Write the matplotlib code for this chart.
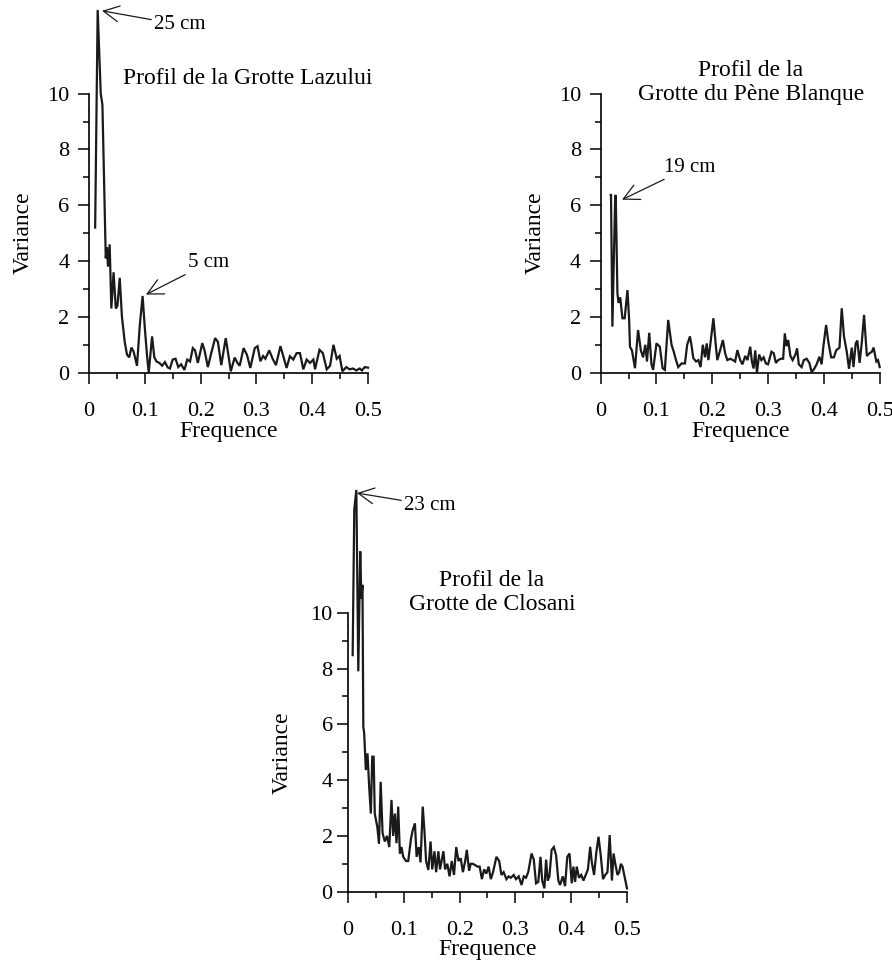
import numpy as np
import matplotlib
matplotlib.use("Agg")
import matplotlib.pyplot as plt
from matplotlib.ticker import MultipleLocator
from matplotlib.transforms import blended_transform_factory

plt.rcParams['font.family'] = ['Liberation Serif', 'DejaVu Serif']

# spectre de variance - Grotte Lazului
freq_laz = [0.011, 0.0155, 0.021, 0.024, 0.030, 0.032, 0.034, 0.037, 0.040, 0.044,
            0.048, 0.051, 0.055, 0.059, 0.064, 0.068, 0.072, 0.076, 0.080, 0.083,
            0.086, 0.091, 0.096, 0.100, 0.104, 0.107, 0.113, 0.117, 0.121, 0.126,
            0.131, 0.136, 0.141, 0.145, 0.150, 0.155, 0.160, 0.165, 0.171, 0.176,
            0.181, 0.186, 0.190, 0.195, 0.203, 0.207, 0.213, 0.219, 0.226, 0.231,
            0.237, 0.245, 0.250, 0.254, 0.261, 0.266, 0.270, 0.277, 0.283, 0.289,
            0.297, 0.302, 0.307, 0.312, 0.316, 0.323, 0.329, 0.335, 0.343, 0.348,
            0.354, 0.360, 0.366, 0.372, 0.378, 0.384, 0.390, 0.396, 0.402, 0.405,
            0.413, 0.419, 0.426, 0.432, 0.438, 0.444, 0.449, 0.454, 0.461, 0.467,
            0.473, 0.479, 0.485, 0.489, 0.494, 0.500]
var_laz = [5.2, 13.0, 10.0, 9.6, 4.1, 4.5, 3.8, 4.6, 2.3, 3.6,
           2.3, 2.4, 3.4, 2.0, 1.1, 0.65, 0.55, 0.9, 0.75, 0.5,
           0.25, 1.7, 2.75, 1.6, 0.6, 0.0, 1.3, 0.55, 0.4, 0.35,
           0.25, 0.38, 0.19, 0.15, 0.47, 0.5, 0.2, 0.3, 0.1, 0.47,
           0.4, 0.88, 0.8, 0.35, 1.06, 0.8, 0.2, 0.7, 1.24, 1.1,
           0.27, 1.24, 0.6, 0.05, 0.54, 0.35, 0.25, 0.88, 0.64, 0.17,
           0.88, 0.95, 0.41, 0.6, 0.5, 0.8, 0.5, 0.27, 0.95, 0.6,
           0.17, 0.59, 0.47, 0.7, 0.7, 0.12, 0.47, 0.35, 0.47, 0.12,
           0.82, 0.7, 0.12, 0.25, 1.0, 0.5, 0.6, 0.05, 0.2, 0.12,
           0.15, 0.08, 0.15, 0.08, 0.2, 0.18]

# Grotte du Pene Blanque
freq_pen = [0.018, 0.0185, 0.021, 0.026, 0.027, 0.030, 0.032, 0.035, 0.039, 0.043,
            0.048, 0.051, 0.0525, 0.056, 0.0615, 0.067, 0.072, 0.076, 0.080, 0.083,
            0.087, 0.091, 0.094, 0.100, 0.106, 0.111, 0.115, 0.121, 0.127, 0.131,
            0.135, 0.139, 0.145, 0.151, 0.155, 0.160, 0.163, 0.166, 0.171, 0.175,
            0.179, 0.183, 0.187, 0.190, 0.193, 0.197, 0.202, 0.206, 0.209, 0.214,
            0.219, 0.223, 0.227, 0.232, 0.237, 0.241, 0.245, 0.250, 0.254, 0.259,
            0.263, 0.268, 0.271, 0.274, 0.277, 0.280, 0.284, 0.288, 0.292, 0.296,
            0.300, 0.306, 0.310, 0.314, 0.318, 0.323, 0.327, 0.330, 0.333, 0.336,
            0.340, 0.344, 0.349, 0.352, 0.355, 0.360, 0.364, 0.369, 0.374, 0.378,
            0.383, 0.387, 0.392, 0.396, 0.399, 0.404, 0.408, 0.413, 0.418, 0.422,
            0.428, 0.432, 0.436, 0.441, 0.445, 0.450, 0.453, 0.457, 0.460, 0.464,
            0.468, 0.472, 0.477, 0.482, 0.486, 0.489, 0.494, 0.497, 0.500]
var_pen = [6.37, 6.37, 1.65, 6.3, 6.37, 2.85, 2.5, 2.7, 1.95, 1.95,
           2.96, 1.9, 0.93, 0.8, 0.16, 1.53, 0.8, 0.55, 1.0, 0.4,
           1.43, 0.3, 0.1, 1.05, 0.93, 0.16, 0.1, 1.89, 1.0, 0.75,
           0.45, 0.2, 0.33, 0.33, 1.0, 1.3, 0.95, 0.52, 0.4, 0.45,
           0.2, 1.0, 0.55, 1.05, 0.45, 1.1, 1.95, 1.05, 0.45, 0.8,
           1.17, 0.7, 0.45, 0.5, 0.45, 0.4, 0.81, 0.45, 0.3, 0.6,
           0.45, 0.93, 0.4, 0.15, 0.8, 0.0, 0.65, 0.45, 0.55, 0.33,
           0.3, 0.75, 0.7, 0.35, 0.45, 0.5, 0.5, 1.41, 0.95, 1.17,
           0.6, 0.45, 0.65, 0.87, 0.3, 0.2, 0.45, 0.5, 0.35, 0.02,
           0.15, 0.3, 0.57, 0.3, 0.93, 1.71, 1.1, 0.55, 0.55, 0.8,
           0.9, 2.31, 1.3, 0.75, 0.14, 0.9, 0.2, 1.05, 1.15, 0.35,
           1.1, 2.07, 0.6, 0.7, 0.75, 0.9, 0.4, 0.45, 0.2]

# Grotte de Closani
freq_clo = [0.0084, 0.0113, 0.015, 0.0185, 0.022, 0.024, 0.026, 0.0275, 0.029, 0.032,
            0.035, 0.038, 0.041, 0.0435, 0.046, 0.048, 0.0525, 0.0556, 0.0586, 0.062,
            0.066, 0.070, 0.074, 0.078, 0.081, 0.084, 0.087, 0.090, 0.093, 0.096,
            0.099, 0.104, 0.108, 0.113, 0.116, 0.120, 0.123, 0.127, 0.130, 0.134,
            0.137, 0.140, 0.144, 0.148, 0.151, 0.155, 0.158, 0.162, 0.165, 0.171,
            0.174, 0.178, 0.182, 0.186, 0.190, 0.194, 0.198, 0.202, 0.206, 0.210,
            0.213, 0.217, 0.220, 0.224, 0.228, 0.232, 0.236, 0.240, 0.244, 0.248,
            0.252, 0.256, 0.260, 0.266, 0.271, 0.275, 0.279, 0.284, 0.288, 0.292,
            0.297, 0.301, 0.306, 0.311, 0.315, 0.319, 0.323, 0.329, 0.333, 0.337,
            0.341, 0.345, 0.348, 0.352, 0.355, 0.358, 0.361, 0.365, 0.369, 0.373,
            0.377, 0.380, 0.385, 0.389, 0.393, 0.397, 0.401, 0.404, 0.407, 0.410,
            0.414, 0.418, 0.422, 0.426, 0.430, 0.434, 0.437, 0.441, 0.445, 0.449,
            0.453, 0.457, 0.461, 0.465, 0.469, 0.473, 0.476, 0.479, 0.483, 0.486,
            0.489, 0.492, 0.500]
var_clo = [8.48, 13.7, 14.4, 7.9, 12.2, 10.5, 11.0, 5.9, 5.7, 4.36,
           4.96, 3.76, 2.8, 4.84, 4.84, 2.8, 2.33, 1.73, 3.94, 2.1,
           1.8, 2.0, 1.6, 3.29, 2.0, 2.8, 1.74, 3.05, 1.37, 1.6,
           1.25, 1.1, 1.1, 1.91, 2.2, 2.45, 1.25, 1.6, 1.05, 3.05,
           2.2, 1.1, 0.78, 1.8, 0.8, 1.45, 0.7, 1.45, 0.8, 1.45,
           0.8, 1.0, 0.55, 1.1, 0.6, 1.6, 1.1, 1.2, 0.7, 1.1,
           1.5, 0.75, 1.0, 1.0, 0.95, 0.9, 0.9, 0.45, 0.8, 0.65,
           0.9, 0.45, 0.7, 1.25, 1.1, 0.6, 0.7, 0.45, 0.55, 0.5,
           0.6, 0.45, 0.55, 0.24, 0.55, 0.5, 0.7, 1.37, 1.15, 0.3,
           0.35, 1.25, 0.4, 0.12, 1.15, 0.4, 0.55, 1.5, 1.6, 1.3,
           0.4, 0.24, 0.55, 0.2, 1.25, 1.37, 0.3, 0.9, 0.35, 0.9,
           0.5, 0.6, 0.4, 0.6, 0.8, 1.61, 1.05, 0.6, 1.4, 1.97,
           1.3, 0.45, 0.6, 0.7, 2.03, 0.4, 1.37, 1.0, 0.6, 0.7,
           1.0, 0.9, 0.12]

fig = plt.figure(figsize=(8.92, 9.64), dpi=100)

ax1 = fig.add_axes([0.0998, 0.6134, 0.3128, 0.3864])
ax2 = fig.add_axes([0.6734, 0.6134, 0.3128, 0.3864])
ax3 = fig.add_axes([0.3901, 0.0750, 0.3128, 0.4225])


def style_axes(ax, ytop, ypad, xlab_off):
    ax.set_xlim(0, 0.5)
    ax.set_ylim(0, ytop)
    for s in ['top', 'right']:
        ax.spines[s].set_visible(False)
    ax.spines['left'].set_bounds(0, 10)
    ax.spines['bottom'].set_bounds(0, 0.5)
    for s in ['left', 'bottom']:
        ax.spines[s].set_linewidth(1.2)
    ax.xaxis.set_major_locator(MultipleLocator(0.1))
    ax.xaxis.set_minor_locator(MultipleLocator(0.05))
    ax.yaxis.set_major_locator(plt.FixedLocator([0, 2, 4, 6, 8, 10]))
    ax.yaxis.set_minor_locator(plt.FixedLocator([1, 3, 5, 7, 9]))
    ax.xaxis.set_major_formatter(plt.FuncFormatter(lambda v, p: '0' if v == 0 else '%g' % round(v, 2)))
    ax.tick_params(which='major', direction='out', length=8, width=1.1, labelsize=16)
    ax.tick_params(which='minor', direction='out', length=4.5, width=1.1)
    ax.tick_params(axis='x', which='major', pad=13)
    ax.tick_params(axis='y', which='major', pad=ypad)
    ax.set_xlabel('Frequence', fontsize=17)
    ax.set_ylabel('Variance', fontsize=17)
    ax.xaxis.label.set_verticalalignment('center')
    ax.yaxis.label.set_verticalalignment('center')
    bt = blended_transform_factory(ax.transAxes, ax.transData)
    ax.yaxis.set_label_coords(-0.235, 5, transform=bt)
    ax.xaxis.set_label_coords(0.5, -xlab_off)


line_kw = dict(color='#1a1a1a', lw=1.6, clip_on=False, solid_joinstyle='miter')
arrow_kw = dict(arrowstyle='->,head_length=0.75,head_width=0.38', color='#1a1a1a', lw=0.9,
                shrinkA=0, shrinkB=0)

# Lazului
ax1.plot(freq_laz, var_laz, **line_kw)
style_axes(ax1, 13.35, 6, 0.157)
ax1.text(0.061, 10.55, 'Profil de la Grotte Lazului', fontsize=17, ha='left', va='center')
ax1.annotate('25 cm', xy=(0.0233, 12.97), xytext=(0.1165, 12.47), fontsize=15,
             va='center', ha='left', arrowprops=arrow_kw)
ax1.annotate('5 cm', xy=(0.102, 2.8), xytext=(0.1774, 3.94), fontsize=15,
             va='center', ha='left', arrowprops=arrow_kw)

# Pene Blanque
ax2.plot(freq_pen, var_pen, **line_kw)
style_axes(ax2, 13.35, 6, 0.157)
ax2.text(0.269, 10.4, 'Profil de la\nGrotte du Pène Blanque', fontsize=17,
         ha='center', va='center')
ax2.annotate('19 cm', xy=(0.0382, 6.2), xytext=(0.1134, 7.37), fontsize=15,
             va='center', ha='left', arrowprops=arrow_kw)

# Closani
ax3.plot(freq_clo, var_clo, **line_kw)
style_axes(ax3, 14.6, 3, 0.143)
ax3.text(0.258, 10.72, 'Profil de la\nGrotte de Closani', fontsize=17,
         ha='center', va='center')
ax3.annotate('23 cm', xy=(0.0161, 14.29), xytext=(0.1004, 13.86), fontsize=15,
             va='center', ha='left', arrowprops=arrow_kw)

fig.savefig('out.png', dpi=100)
